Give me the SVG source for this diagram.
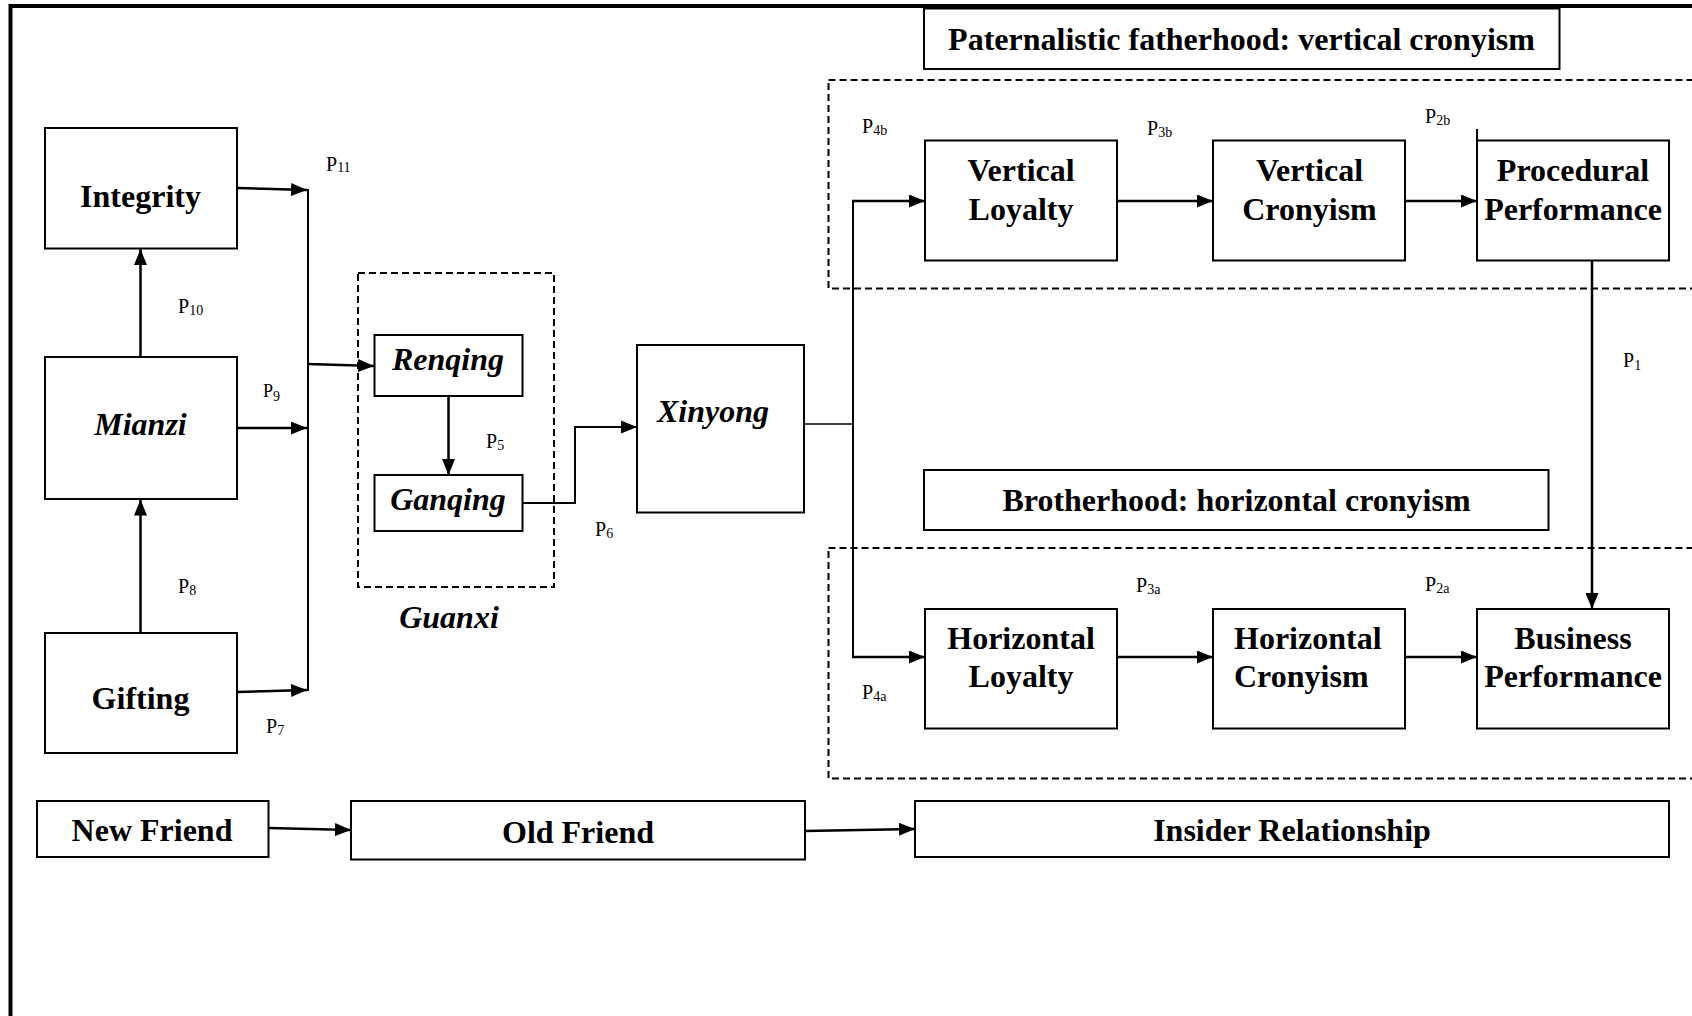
<svg xmlns="http://www.w3.org/2000/svg" width="1692" height="1016" viewBox="0 0 1692 1016">
<defs>
<marker id="ah" markerUnits="userSpaceOnUse" markerWidth="16" markerHeight="13" viewBox="0 0 16 13" refX="16" refY="6.5" orient="auto">
<path d="M0,0 L16,6.5 L0,13 z" fill="#000"/>
</marker>
<style>
.box{fill:#fff;stroke:#000;stroke-width:2}
.dash{fill:none;stroke:#000;stroke-width:2;stroke-dasharray:7 4}
.lbl{font-family:"Liberation Serif","Times New Roman",serif;font-weight:bold;font-size:32px;fill:#000;text-anchor:middle}
.it{font-style:italic}
.p{font-family:"Liberation Serif","Times New Roman",serif;font-size:20px;fill:#000}
.sub{font-size:14px}
.c{fill:none;stroke:#000;stroke-width:2.5}
.ca{fill:none;stroke:#000;stroke-width:2.5;marker-end:url(#ah)}
.thin{fill:none;stroke:#000;stroke-width:1.6}
</style>
</defs>
<rect width="1692" height="1016" fill="#fff"/>
<path d="M10.5,1016 V6 H1692" fill="none" stroke="#000" stroke-width="4"/>

<g id="guanxi-group">
<rect class="dash" x="358" y="273" width="196" height="314"/>
<text class="lbl it" x="449" y="628">Guanxi</text>
</g>
<g id="vertical-group">
<rect class="dash" x="828.5" y="80" width="880" height="208.5"/>
</g>
<g id="horizontal-group">
<rect class="dash" x="828.5" y="548" width="880" height="230.5"/>
</g>

<g id="integrity"><rect class="box" x="45" y="128" width="192" height="120.5"/><text class="lbl" x="140.5" y="207">Integrity</text></g>
<g id="mianzi"><rect class="box" x="45" y="357" width="192" height="142"/><text class="lbl it" x="140.5" y="435">Mianzi</text></g>
<g id="gifting"><rect class="box" x="45" y="633" width="192" height="120"/><text class="lbl" x="140.5" y="709">Gifting</text></g>
<g id="renqing"><rect class="box" x="374.5" y="335" width="148" height="61"/><text class="lbl it" x="448" y="370">Renqing</text></g>
<g id="ganqing"><rect class="box" x="374.5" y="475" width="148" height="56"/><text class="lbl it" x="448" y="510">Ganqing</text></g>
<g id="xinyong"><rect class="box" x="637" y="345" width="167" height="167.5"/><text class="lbl it" x="713" y="421.5">Xinyong</text></g>

<g id="paternalistic"><rect class="box" x="924" y="8.5" width="635.5" height="60.5"/><text class="lbl" x="1241.5" y="50">Paternalistic fatherhood: vertical cronyism</text></g>
<g id="vertical-loyalty"><rect class="box" x="925" y="140.5" width="192" height="120"/><text class="lbl" x="1021" y="181">Vertical</text><text class="lbl" x="1021" y="220">Loyalty</text></g>
<g id="vertical-cronyism"><rect class="box" x="1213" y="140.5" width="192" height="120"/><text class="lbl" x="1309.5" y="181">Vertical</text><text class="lbl" x="1309.5" y="220">Cronyism</text></g>
<g id="procedural-performance"><rect class="box" x="1477" y="140.5" width="192" height="120"/><text class="lbl" x="1573" y="181">Procedural</text><text class="lbl" x="1573" y="220">Performance</text></g>

<g id="brotherhood"><rect class="box" x="924" y="470" width="624.5" height="60"/><text class="lbl" x="1236.5" y="511">Brotherhood: horizontal cronyism</text></g>
<g id="horizontal-loyalty"><rect class="box" x="925" y="609" width="192" height="119.5"/><text class="lbl" x="1021" y="649">Horizontal</text><text class="lbl" x="1021" y="687">Loyalty</text></g>
<g id="horizontal-cronyism"><rect class="box" x="1213" y="609" width="192" height="119.5"/><text class="lbl" x="1234" y="649" style="text-anchor:start">Horizontal</text><text class="lbl" x="1234" y="687" style="text-anchor:start">Cronyism</text></g>
<g id="business-performance"><rect class="box" x="1477" y="609" width="192" height="119.5"/><text class="lbl" x="1573" y="649">Business</text><text class="lbl" x="1573" y="687">Performance</text></g>

<g id="new-friend"><rect class="box" x="37" y="801" width="231.5" height="56"/><text class="lbl" x="152" y="841">New Friend</text></g>
<g id="old-friend"><rect class="box" x="351" y="801" width="454" height="58.5"/><text class="lbl" x="578" y="843">Old Friend</text></g>
<g id="insider-relationship"><rect class="box" x="915" y="801" width="754" height="56"/><text class="lbl" x="1292" y="841">Insider Relationship</text></g>

<g id="connectors">
<line class="ca" x1="237" y1="188" x2="307" y2="190"/>
<line class="ca" x1="237" y1="428" x2="307" y2="428"/>
<line class="ca" x1="237" y1="692" x2="307" y2="690"/>
<line class="c" x1="308" y1="189" x2="308" y2="691" style="stroke-width:2"/>
<line class="ca" x1="308" y1="364" x2="374" y2="366"/>
<line class="ca" x1="140.5" y1="357" x2="140.5" y2="249"/>
<line class="ca" x1="140.5" y1="633" x2="140.5" y2="499.5"/>
<line class="ca" x1="448.5" y1="396" x2="448.5" y2="475"/>
<polyline class="ca" points="522.5,503 575,503 575,427 637,427" style="stroke-width:2"/>
<line class="thin" x1="804" y1="424" x2="853" y2="424"/>
<line class="c" x1="853" y1="200" x2="853" y2="658" style="stroke-width:2"/>
<line class="ca" x1="852" y1="201" x2="925" y2="201"/>
<line class="ca" x1="852" y1="657" x2="925" y2="657"/>
<line class="ca" x1="1117" y1="201" x2="1213" y2="201"/>
<line class="ca" x1="1405" y1="201" x2="1477" y2="201"/>
<line class="ca" x1="1117" y1="657" x2="1213" y2="657"/>
<line class="ca" x1="1405" y1="657" x2="1477" y2="657"/>
<line class="ca" x1="1592" y1="260.5" x2="1592" y2="609"/>
<line class="thin" x1="1477" y1="129" x2="1477" y2="141" style="stroke-width:2"/>
<line class="ca" x1="268.5" y1="828" x2="351" y2="830"/>
<line class="ca" x1="805" y1="831" x2="915" y2="829"/>
</g>

<g id="path-labels">
<text class="p" x="326" y="171">P<tspan class="sub" dy="1">11</tspan></text>
<text class="p" x="178" y="313">P<tspan class="sub" dy="2">10</tspan></text>
<text class="p" x="263" y="397" style="font-size:18px">P<tspan class="sub" dy="4">9</tspan></text>
<text class="p" x="178" y="593">P<tspan class="sub" dy="2">8</tspan></text>
<text class="p" x="266" y="733">P<tspan class="sub" dy="2">7</tspan></text>
<text class="p" x="486" y="448">P<tspan class="sub" dy="2">5</tspan></text>
<text class="p" x="595" y="536">P<tspan class="sub" dy="2">6</tspan></text>
<text class="p" x="862" y="133">P<tspan class="sub" dy="2">4b</tspan></text>
<text class="p" x="1147" y="135">P<tspan class="sub" dy="2">3b</tspan></text>
<text class="p" x="1425" y="123">P<tspan class="sub" dy="2">2b</tspan></text>
<text class="p" x="1623" y="367">P<tspan class="sub" dy="3">1</tspan></text>
<text class="p" x="1136" y="592">P<tspan class="sub" dy="2">3a</tspan></text>
<text class="p" x="1425" y="591">P<tspan class="sub" dy="2">2a</tspan></text>
<text class="p" x="862" y="699">P<tspan class="sub" dy="2">4a</tspan></text>
</g>
</svg>
